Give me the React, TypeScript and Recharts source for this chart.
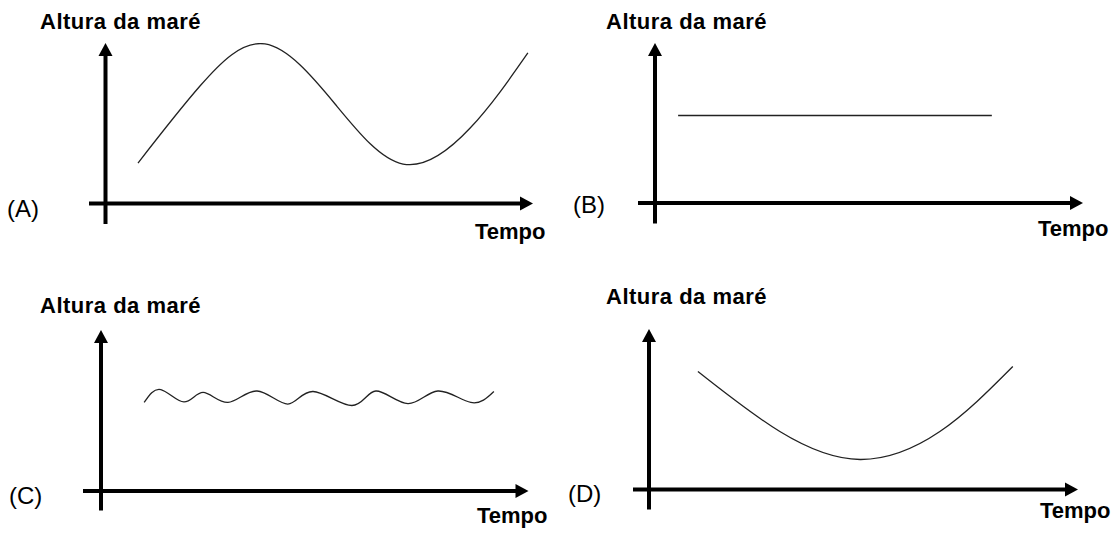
import { LineChart, Line, XAxis, YAxis, ReferenceLine } from "recharts";

// values: t = tempo (0..100 along the axis), h = altura (0..100 up the axis)
const tideA = [
  { t: 7.6, h: 25.2 },
  { t: 22.1, h: 73.2 },
  { t: 37.3, h: 99.4 },
  { t: 53.7, h: 62.0 },
  { t: 69.6, h: 24.6 },
  { t: 85.3, h: 47.0 },
  { t: 98.8, h: 93.8 },
];

const tideB = [
  { t: 5.4, h: 54.7 },
  { t: 78.7, h: 54.7 },
];

const tideC = [
  { t: 10.1, h: 55.0 },
  { t: 14.0, h: 63.0 },
  { t: 19.4, h: 55.3 },
  { t: 23.9, h: 61.2 },
  { t: 29.7, h: 55.0 },
  { t: 36.5, h: 62.1 },
  { t: 43.7, h: 54.0 },
  { t: 49.6, h: 61.8 },
  { t: 58.7, h: 53.1 },
  { t: 64.3, h: 62.1 },
  { t: 71.8, h: 54.3 },
  { t: 78.8, h: 62.1 },
  { t: 86.5, h: 55.0 },
  { t: 91.9, h: 61.8 },
];

const tideD = [
  { t: 11.4, h: 73.5 },
  { t: 30.5, h: 36.1 },
  { t: 49.2, h: 18.7 },
  { t: 67.8, h: 36.1 },
  { t: 84.8, h: 76.6 },
];

const yTitle = "Altura da maré";
const xTitle = "Tempo";

// pixel layout of each little chart: origin, arrow tips, how far the axes stick out past the origin
const panels = [
  { id: "A", data: tideA, ox: 105.5, oy: 203.5, tipX: 533, tipY: 43, left: 89, bottom: 224,
    title: [40, 29], letter: [7, 217], tempo: [475, 239] },
  { id: "B", data: tideB, ox: 655, oy: 202.5, tipX: 1083, tipY: 42.5, left: 638, bottom: 223,
    title: [606, 29], letter: [573, 213], tempo: [1038, 236] },
  { id: "C", data: tideC, ox: 101, oy: 490.5, tipX: 528.5, tipY: 329.5, left: 83, bottom: 510,
    title: [40, 313], letter: [9, 504], tempo: [477, 523] },
  { id: "D", data: tideD, ox: 649, oy: 489, tipX: 1078, tipY: 328.5, left: 633, bottom: 509,
    title: [606, 304], letter: [568, 502], tempo: [1040, 518] },
];

const FONT = "'Liberation Sans', Arial, Helvetica, sans-serif";
const PAD = 10;

function Arrow(props: any) {
  const { x1, y1, x2, y2 } = props;
  const dx = x2 - x1;
  const dy = y2 - y1;
  const len = Math.hypot(dx, dy) || 1;
  const ux = dx / len;
  const uy = dy / len;
  const hl = 13;
  const hw = 7;
  const bx = x2 - ux * hl;
  const by = y2 - uy * hl;
  return (
    <g>
      <line x1={x1} y1={y1} x2={bx + ux * 2} y2={by + uy * 2} stroke="#000" strokeWidth={4} />
      <polygon
        points={`${x2},${y2} ${bx - uy * hw},${by + ux * hw} ${bx + uy * hw},${by - ux * hw}`}
        fill="#000"
      />
    </g>
  );
}

function Panel({ p }: { p: (typeof panels)[number] }) {
  const lenX = p.tipX - p.ox;
  const lenY = p.oy - p.tipY;
  const tMin = (-(p.ox - p.left) / lenX) * 100;
  const hMin = (-(p.bottom - p.oy) / lenY) * 100;
  const w = p.tipX - p.left + PAD * 2;
  const h = p.bottom - p.tipY + PAD * 2;
  return (
    <div style={{ position: "absolute", left: p.left - PAD, top: p.tipY - PAD }}>
      <LineChart width={w} height={h} data={p.data} margin={{ top: PAD, right: PAD, bottom: PAD, left: PAD }}>
        <XAxis type="number" dataKey="t" domain={[tMin, 100]} allowDataOverflow hide />
        <YAxis type="number" domain={[hMin, 100]} allowDataOverflow hide />
        <ReferenceLine
          segment={[{ x: tMin, y: 0 }, { x: 100, y: 0 }]}
          ifOverflow="visible"
          shape={Arrow}
        />
        <ReferenceLine
          segment={[{ x: 0, y: hMin }, { x: 0, y: 100 }]}
          ifOverflow="visible"
          shape={Arrow}
        />
        <Line
          type="natural"
          dataKey="h"
          stroke="#222"
          strokeWidth={1.3}
          dot={false}
          activeDot={false}
          isAnimationActive={false}
        />
      </LineChart>
    </div>
  );
}

export default function App() {
  return (
    <div style={{ position: "absolute", left: 0, top: 0, width: 1118, height: 538, background: "#fff" }}>
      {panels.map((p) => (
        <Panel key={p.id} p={p} />
      ))}
      <svg width={1118} height={538} style={{ position: "absolute", left: 0, top: 0, pointerEvents: "none" }}>
        {panels.map((p) => (
          <g key={p.id} fontFamily={FONT} fill="#000">
            <text x={p.title[0]} y={p.title[1]} fontSize={22} fontWeight="bold" letterSpacing={0.5}>
              {yTitle}
            </text>
            <text x={p.letter[0]} y={p.letter[1]} fontSize={24}>
              ({p.id})
            </text>
            <text x={p.tempo[0]} y={p.tempo[1]} fontSize={22} fontWeight="bold">
              {xTitle}
            </text>
          </g>
        ))}
      </svg>
    </div>
  );
}
